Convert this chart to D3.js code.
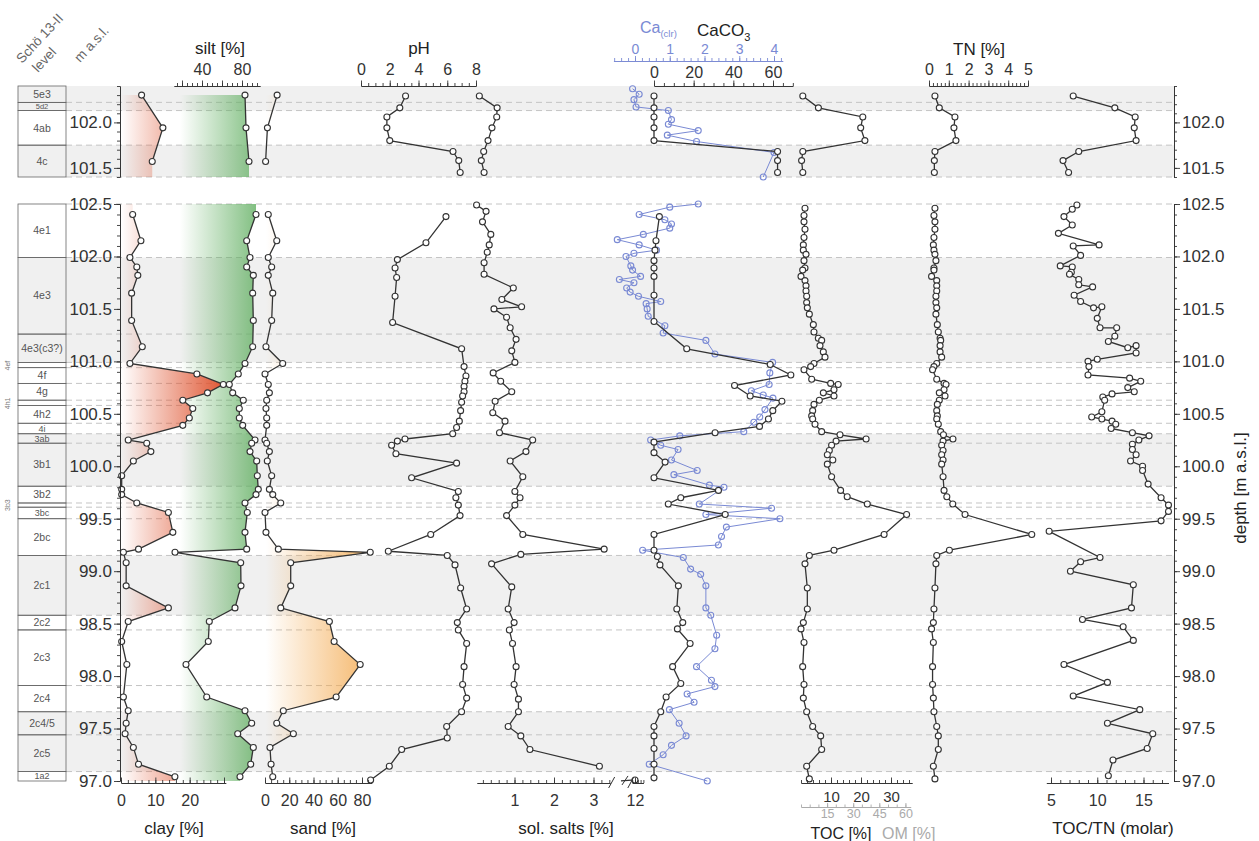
<!DOCTYPE html>
<html>
<head>
<meta charset="utf-8">
<script src="https://cdn.jsdelivr.net/npm/d3@7"></script>
<style>
  body { margin: 0; background: #fff; }
  svg text { font-family: "Liberation Sans", Arial, sans-serif; }
</style>
</head>
<body>
<svg id="chart" width="1259" height="841"></svg>
<script>
// ---------- stratigraphy ----------
const layersUp = ['5e3', '5d2', '4ab', '4c'];
const layerTopsUp = [102.4, 102.22, 102.13, 101.75];
const greyUp = [[102.4, 102.13], [101.75, 101.4]];

const layersLow = ['4e1', '4e3', '4e3(c3?)', '', '4f', '4g', '', '4h2', '4i', '3ab', '3b1',
  '3b2', '', '3bc', '2bc', '2c1', '2c2', '2c3', '2c4', '2c4/5', '2c5', '1a2'];
const layerTopsLow = [102.5, 101.99, 101.26, 100.99, 100.94, 100.79, 100.63, 100.58, 100.41,
  100.31, 100.22, 99.81, 99.65, 99.61, 99.50, 99.15, 98.58, 98.44, 97.91, 97.66, 97.44, 97.09];
const greyLow = [[101.99, 100.99], [100.31, 99.81], [99.15, 98.58], [97.66, 97.09]];

// ---------- upper section data ----------
const grainDepthUp = [102.30, 101.94, 101.57];
const clayUp = [6.0, 12.2, 9.1];
const siltUp = [83, 84, 87];
const sandUp = [10, 2, 0.5];

const chemDepthUp = [102.29, 102.16, 102.06, 101.94, 101.80, 101.68, 101.58, 101.45];
const phUp = [3.1, 2.7, 1.8, 1.8, 2.0, 6.4, 6.8, 6.9];
const saltUp = [0.11, 0.56, 0.55, 0.43, 0.33, 0.22, 0.16, 0.23];
const carbUp = [0, 0, 0, 0, 0, 62.3, 62.3, 62.3];
const tocUp = [0.6, 5.8, 20.6, 19.9, 21.3, 0.6, 0.2, 0.6];
const tnUp = [0.30, 0.52, 1.31, 1.26, 1.36, 0.30, 0.27, 0.27];
const ratioUp = [7.4, 11.9, 14.1, 14.0, 14.2, 8.0, 6.3, 6.9];

const caDepthUp = [102.37, 102.31, 102.25, 102.17, 102.13, 102.03, 101.98, 101.91, 101.86, 101.79, 101.67, 101.40];
const caUp = [-0.07, 0.12, -0.03, 0.03, 0.96, 1.05, 0.96, 1.82, 0.93, 1.77, 4.0, 3.69];

// ---------- lower section data ----------
const grainDepthLow = [102.40, 102.15, 101.99, 101.90, 101.82, 101.65, 101.39, 101.14, 100.98, 100.88,
  100.78, 100.70, 100.63, 100.55, 100.46, 100.39, 100.25, 100.22, 100.14, 100.05, 99.91, 99.78, 99.73,
  99.65, 99.56, 99.37, 99.21, 99.18, 99.08, 98.86, 98.65, 98.52, 98.33, 98.11, 97.80, 97.67, 97.55,
  97.45, 97.32, 97.16, 97.04];
const clayLow = [3.4, 5.8, 2.6, 4.6, 4.9, 3.1, 3.1, 6.2, 2.6, 22.1, 29.8, 25.2, 18.0, 20.9, 19.9, 18.0,
  2.1, 7.5, 8.7, 3.6, 0.2, 0.2, 0.2, 4.6, 13.8, 15.1, 5.1, 0.7, 1.5, 1.5, 13.8, 2.1, 0.2, 1.7, 0.7, 2.1,
  1.5, 1.2, 3.6, 5.1, 15.7];
const siltLow = [94, 84.7, 88, 84.7, 91.3, 90.7, 91.3, 90.7, 83, 76.3, 67.3, 70.7, 81.3, 77.3, 77.3, 80.7,
  93, 89.7, 88, 94.7, 95.3, 96.3, 94, 83, 85.3, 83, 84.7, 13, 78.7, 79, 73, 47.3, 46.3, 24, 44.7, 83,
  89.7, 75.7, 91.3, 88.7, 78];
const sandLow = [2.7, 9.7, 2.7, 5.5, 2.7, 6.4, 5.5, 0.8, 14.6, 0, 2.7, 3.6, 1.4, 0.8, 1.4, 1.4, 0, 1.4,
  3.6, 1.9, 5.5, 3.6, 6.4, 13, 0, 0.8, 11, 86.8, 21.2, 21.2, 13, 53.1, 57, 78.5, 58.7, 15.1, 9.7, 23.4,
  4.1, 5, 6.4];

const phDepthLow = [102.38, 102.13, 101.97, 101.89, 101.80, 101.62, 101.37, 101.12, 100.95, 100.86,
  100.81, 100.76, 100.71, 100.67, 100.61, 100.53, 100.43, 100.37, 100.31, 100.26, 100.24, 100.20, 100.12,
  100.03, 99.89, 99.76, 99.70, 99.63, 99.53, 99.35, 99.19, 99.15, 99.06, 98.84, 98.64, 98.51, 98.44,
  98.31, 98.09, 97.92, 97.79, 97.66, 97.52, 97.41, 97.30, 97.14, 97.01];
const phLow = [5.91, 4.52, 2.53, 2.37, 2.48, 2.37, 2.2, 7.0, 7.17, 7.3, 7.23, 7.17, 7.17, 7.07, 7.0, 6.93,
  6.84, 6.65, 6.38, 3.06, 2.53, 2.13, 2.43, 6.65, 3.52, 6.77, 6.6, 6.77, 6.89, 4.85, 1.9, 6.0, 6.54, 6.93,
  7.35, 6.7, 6.77, 7.35, 7.17, 7.07, 7.35, 7.0, 5.96, 6.0, 2.83, 1.97, 0.67];

const saltDepthLow = [102.49, 102.43, 102.33, 102.21, 102.11, 102.04, 101.94, 101.83, 101.70, 101.59,
  101.52, 101.50, 101.42, 101.32, 101.21, 101.10, 100.99, 100.89, 100.81, 100.71, 100.62, 100.51, 100.43,
  100.32, 100.25, 100.14, 100.05, 99.90, 99.76, 99.70, 99.63, 99.53, 99.35, 99.21, 99.16, 99.07, 98.85,
  98.64, 98.51, 98.44, 98.31, 98.09, 97.92, 97.78, 97.66, 97.52, 97.43, 97.30, 97.14];
const saltLow = [0.04, 0.28, 0.19, 0.40, 0.36, 0.31, 0.23, 0.23, 0.97, 0.68, 1.18, 0.48, 0.80, 0.89,
  1.04, 0.93, 1.01, 0.46, 0.65, 0.93, 0.51, 0.45, 0.76, 0.62, 1.46, 1.29, 0.89, 1.21, 1.01, 1.14, 1.01,
  0.80, 1.21, 3.27, 1.16, 0.42, 0.93, 0.84, 0.99, 0.87, 0.95, 1.04, 0.99, 1.10, 1.10, 0.84, 1.16, 1.39, 3.15];
// the lowest sample sits beyond the axis break
const saltOutlierDepth = 97.01;
const saltOutlier = 12;

const carbDepthLow = [102.38, 102.15, 102.06, 101.96, 101.89, 101.81, 101.63, 101.38, 101.12, 100.97,
  100.87, 100.77, 100.67, 100.62, 100.53, 100.45, 100.38, 100.32, 100.23, 100.13, 100.04, 99.89, 99.77,
  99.70, 99.64, 99.54, 99.35, 99.20, 99.14, 99.06, 98.86, 98.64, 98.51, 98.45, 98.31, 98.09, 97.93,
  97.80, 97.66, 97.52, 97.43, 97.31, 97.16, 97.03];
const carbLow = [2.7, 1.0, 0.5, 0, 0, 0, 0, 0, 16.5, 58.6, 69.0, 40.6, 48.5, 64.5, 59.9, 57.7, 53.2,
  30.8, 0, 0, 5.6, 0, 32.5, 13.5, 7.2, 35.9, 0, 0, 1.7, 3.0, 12.3, 11.5, 14.5, 11.8, 18.2, 9.4, 13.5,
  6.1, 3.4, 0, 0, 0, 0, 0];

const caDepthLow = [102.50, 102.47, 102.40, 102.35, 102.31, 102.27, 102.21, 102.16, 102.11, 102.06,
  102.03, 102.00, 101.91, 101.87, 101.81, 101.78, 101.75, 101.70, 101.66, 101.62, 101.57, 101.55, 101.50,
  101.43, 101.34, 101.27, 101.20, 101.07, 100.99, 100.89, 100.78, 100.72, 100.68, 100.65, 100.54, 100.47,
  100.42, 100.33, 100.29, 100.25, 100.20, 100.16, 100.06, 99.96, 99.92, 99.82, 99.80, 99.64, 99.60,
  99.54, 99.50, 99.42, 99.33, 99.25, 99.20, 99.13, 99.02, 98.97, 98.86, 98.65, 98.58, 98.39, 98.26,
  98.09, 97.96, 97.90, 97.83, 97.75, 97.68, 97.55, 97.43, 97.34, 97.25, 97.16, 97.0];
const caLow = [1.82, 1.0, 0.12, 0.86, 1.05, 1.0, 0.24, -0.51, 0.12, 0.62, -0.03, -0.26, -0.12, -0.07,
  0.16, -0.45, -0.03, -0.24, -0.14, 0.10, 0.74, 0.32, 0.35, 0.38, 0.86, 0.81, 2.04, 2.30, 3.96, 3.88,
  3.86, 3.35, 3.69, 3.97, 3.74, 3.59, 3.42, 3.13, 1.29, 0.45, 0.74, 1.24, 1.05, 1.79, 1.12, 2.14, 2.56,
  1.85, 3.93, 2.04, 4.17, 2.63, 2.49, 2.40, 0.22, 1.39, 1.60, 1.89, 2.04, 2.04, 2.18, 2.35, 2.30, 1.77,
  2.20, 2.30, 1.50, 1.70, 0.99, 1.27, 1.47, 1.05, 0.81, 0.41, 2.08];

const orgDepthLow = [102.46, 102.39, 102.33, 102.26, 102.18, 102.11, 102.06, 102.02, 101.96, 101.89,
  101.87, 101.81, 101.77, 101.72, 101.67, 101.62, 101.56, 101.51, 101.45, 101.35, 101.28, 101.22, 101.20,
  101.15, 101.09, 101.04, 100.98, 100.95, 100.92, 100.83, 100.79, 100.78, 100.73, 100.70, 100.67, 100.63,
  100.59, 100.53, 100.48, 100.45, 100.40, 100.33, 100.30, 100.26, 100.24, 100.20, 100.15, 100.11, 100.06,
  100.02, 99.90, 99.77, 99.71, 99.64, 99.54, 99.35, 99.20, 99.15, 99.07, 98.84, 98.64, 98.51, 98.45,
  98.32, 98.09, 97.92, 97.79, 97.66, 97.52, 97.43, 97.30, 97.14, 97.02];
const tocLow = [1.33, 1.0, 1.0, 1.33, 1.0, 0.78, 0.78, 1.67, 1.0, 1.33, 0.56, 0, 1.33, 1.67, 1.67, 1.89,
  1.89, 2.11, 2.78, 4.11, 4.33, 5.78, 6.89, 6.33, 7.44, 8.0, 4.33, 3.22, 1.0, 3.56, 9.89, 12.4, 11.0, 7.44,
  11.0, 6.11, 4.33, 3.89, 3.56, 3.89, 4.67, 6.89, 13.0, 21.7, 11.7, 10.2, 9.44, 8.78, 10.6, 8.78, 10.2,
  13.2, 15.4, 22.1, 35.2, 27.7, 11.0, 2.78, 1.33, 2.11, 2.11, 0.78, 0, 1.0, 0.56, 1.0, 0.78, 1.89, 3.89,
  6.56, 6.89, 1.89, 2.78];
const tnLow = [0.30, 0.25, 0.30, 0.30, 0.25, 0.22, 0.25, 0.30, 0.35, 0.25, 0.25, 0.13, 0.39, 0.39, 0.39,
  0.35, 0.35, 0.39, 0.35, 0.42, 0.47, 0.56, 0.59, 0.56, 0.56, 0.64, 0.39, 0.25, 0.18, 0.39, 0.76, 0.86,
  0.76, 0.52, 0.81, 0.52, 0.42, 0.39, 0.42, 0.39, 0.47, 0.59, 0.73, 1.21, 0.71, 0.64, 0.71, 0.64, 0.71,
  0.64, 0.71, 0.76, 0.9, 1.2, 1.82, 5.19, 1.03, 0.39, 0.35, 0.30, 0.25, 0.22, 0.13, 0.22, 0.18, 0.18,
  0.22, 0.25, 0.39, 0.47, 0.47, 0.22, 0.30];

const ratioDepthLow = [102.49, 102.45, 102.38, 102.30, 102.22, 102.11, 102.10, 102.01, 101.91, 101.90,
  101.85, 101.83, 101.78, 101.73, 101.71, 101.63, 101.57, 101.51, 101.52, 101.41, 101.32, 101.32, 101.24,
  101.19, 101.13, 101.15, 101.08, 101.02, 101.00, 100.95, 100.87, 100.84, 100.81, 100.75, 100.71, 100.69,
  100.66, 100.63, 100.52, 100.47, 100.45, 100.43, 100.40, 100.36, 100.32, 100.29, 100.25, 100.21, 100.16,
  100.11, 100.05, 100.00, 99.96, 99.83, 99.70, 99.63, 99.57, 99.48, 99.38, 99.13, 99.09, 99.00, 98.87,
  98.65, 98.54, 98.47, 98.34, 98.11, 97.94, 97.81, 97.68, 97.55, 97.45, 97.31, 97.20, 97.05];
const ratioLow = [7.8, 7.3, 6.4, 7.3, 5.8, 10.2, 7.4, 8.2, 6.0, 7.3, 7.2, 7.0, 8.0, 8.0, 9.5, 7.5, 8.2,
  9.6, 10.5, 10.0, 10.3, 12.1, 11.9, 11.2, 13.3, 14.2, 14.2, 10.0, 9.0, 9.1, 9.0, 13.5, 14.7, 13.3, 14.0,
  11.6, 10.6, 10.8, 10.5, 9.4, 10.5, 11.6, 12.0, 11.5, 13.8, 15.6, 14.5, 13.8, 13.8, 14.2, 13.6, 14.9,
  14.9, 15.5, 16.9, 17.7, 17.7, 16.9, 4.8, 10.3, 8.2, 7.1, 13.9, 13.7, 8.4, 12.8, 13.9, 6.4, 11.1, 7.4,
  14.6, 11.1, 16.0, 15.4, 11.7, 11.2];

// ---------- tick labels ----------
const depthTicksLow = [97.0, 97.5, 98.0, 98.5, 99.0, 99.5, 100.0, 100.5, 101.0, 101.5, 102.0, 102.5];
const depthTicksUp = [101.5, 102.0];
const clayLabels = [0, 10, 20];
const siltLabels = [40, 80];
const sandLabels = [0, 20, 40, 60, 80];
const phLabels = [0, 2, 4, 6, 8];
const saltLabels = [1, 2, 3];
const caLabels = [0, 1, 2, 3, 4];
const carbLabels = [0, 20, 40, 60];
const tocLabels = [10, 20, 30];
const omLabels = [15, 30, 45, 60];
const tnLabels = [0, 1, 2, 3, 4, 5];
const ratioLabels = [5, 10, 15];

// ---------- layout ----------
const font = '"Liberation Sans", Arial, sans-serif';
const ink = '#333';
const blue = '#7a8ad4';
const colLeft = 18, colRight = 66, axisL = 120, axisR = 1174;
const topAxisY = 86, bottomAxisY = 783;

const yUp = d3.scaleLinear().domain([101.4, 102.4]).range([177, 86]);
const yLow = d3.scaleLinear().domain([97.0, 102.5]).range([781, 204]);

const xClay = d3.scaleLinear().domain([0, 30]).range([121, 224]);
const xSilt = d3.scaleLinear().domain([0, 100]).range([162, 262]);
const xSand = d3.scaleLinear().domain([0, 80]).range([265, 362]);
const xPH = d3.scaleLinear().domain([0, 8]).range([361, 476]);
const xSalt = d3.scaleLinear().domain([0, 3]).range([475, 593.5]);
const xSaltBreak = d3.scaleLinear().domain([11.5, 12.5]).range([621, 649]);
const xCa = d3.scaleLinear().domain([0, 4]).range([635, 774]);
const xCarb = d3.scaleLinear().domain([0, 60]).range([654, 773]);
const xTOC = d3.scaleLinear().domain([0, 30]).range([801, 891]);
const xTN = d3.scaleLinear().domain([0, 5]).range([929, 1028]);
const xRatio = d3.scaleLinear().domain([5, 15]).range([1051, 1143.5]);

const svg = d3.select('#chart');
const defs = svg.append('defs');

const addGradient = (id, x1, x2, color, maxOpacity) => {
  const gr = defs.append('linearGradient').attr('id', id)
    .attr('gradientUnits', 'userSpaceOnUse')
    .attr('x1', x1).attr('x2', x2).attr('y1', 0).attr('y2', 0);
  gr.append('stop').attr('offset', 0).attr('stop-color', color).attr('stop-opacity', 0);
  gr.append('stop').attr('offset', 1).attr('stop-color', color).attr('stop-opacity', maxOpacity);
};
addGradient('gClay', 121, 226, '#df5430', 1);
addGradient('gSilt', 180, 258, '#5fae5f', 0.8);
addGradient('gSand', 266, 372, '#f3a94e', 0.85);

// ---------- background bands, dashed boundaries, column ----------
const drawSection = (y, layers, tops, bottom, greys, dashes) => {
  greys.forEach(([a, b]) => {
    svg.append('rect')
      .attr('x', colLeft).attr('width', axisR - colLeft)
      .attr('y', y(a)).attr('height', y(b) - y(a))
      .attr('fill', '#f0f0f0');
  });
  dashes.forEach((d) => {
    svg.append('line')
      .attr('x1', colRight).attr('x2', axisR)
      .attr('y1', y(d)).attr('y2', y(d))
      .attr('stroke', '#c4c4c4').attr('stroke-width', 1)
      .attr('stroke-dasharray', '6,4');
  });
  layers.forEach((name, i) => {
    const t = tops[i];
    const b = i < tops.length - 1 ? tops[i + 1] : bottom;
    svg.append('rect')
      .attr('x', colLeft).attr('width', colRight - colLeft)
      .attr('y', y(t)).attr('height', y(b) - y(t))
      .attr('fill', 'none').attr('stroke', '#666').attr('stroke-width', 0.8);
    if (name) {
      const h = y(b) - y(t);
      const fs = name === '5d2' ? 7.5 : h < 12 ? 9 : 10.5;
      svg.append('text')
        .attr('x', (colLeft + colRight) / 2).attr('y', (y(t) + y(b)) / 2 + fs * 0.35)
        .attr('text-anchor', 'middle').attr('font-size', fs).attr('fill', '#555')
        .text(name);
    }
  });
};

drawSection(yUp, layersUp, layerTopsUp, 101.4, greyUp, [102.22, 102.13, 101.75, 101.4]);
drawSection(yLow, layersLow, layerTopsLow, 97.0, greyLow, layerTopsLow);

// small sub-unit labels beside the column
[['4ef', 100.96], ['4h1', 100.6], ['3b3', 99.63]].forEach(([t, d]) => {
  svg.append('text')
    .attr('transform', `translate(10,${yLow(d)}) rotate(-90)`)
    .attr('text-anchor', 'middle').attr('font-size', 7).attr('fill', '#777')
    .text(t);
});

// ---------- filled grain-size profiles ----------
const fillProfile = (depths, vals, x, y, x0, top, bottom, grad) => {
  const rows = depths.map((d, i) => ({ d, v: vals[i], b: x0(i) }));
  if (top !== null) rows.unshift({ d: top, v: vals[0], b: x0(0) });
  rows.push({ d: bottom, v: vals[vals.length - 1], b: x0(vals.length - 1) });
  svg.append('path')
    .attr('d', d3.area().y((r) => y(r.d)).x0((r) => r.b).x1((r) => x(r.v))(rows))
    .attr('fill', `url(#${grad})`);
};

const drawFills = (depths, clay, silt, sand, y, top, bottom) => {
  fillProfile(depths, silt, xSilt, y, (i) => Math.max(xSilt(0), xClay(clay[i])), top, bottom, 'gSilt');
  fillProfile(depths, clay, xClay, y, () => xClay(0), top, bottom, 'gClay');
  fillProfile(depths, sand, xSand, y, () => xSand(0), top, bottom, 'gSand');
};
drawFills(grainDepthUp, clayUp, siltUp, sandUp, yUp, null, 101.4);
drawFills(grainDepthLow, clayLow, siltLow, sandLow, yLow, 102.5, 97.0);

// ---------- line + open circle profiles ----------
const profile = (depths, vals, x, y, color = ink, lw = 1.3) => {
  const pts = depths.map((d, i) => [x(vals[i]), y(d)]);
  const g = svg.append('g');
  g.append('path').attr('d', d3.line()(pts))
    .attr('fill', 'none').attr('stroke', color).attr('stroke-width', lw);
  g.selectAll('circle').data(pts).join('circle')
    .attr('cx', (p) => p[0]).attr('cy', (p) => p[1]).attr('r', 3)
    .attr('fill', color === ink ? '#fff' : 'none')
    .attr('stroke', color).attr('stroke-width', 1.1);
};

profile(caDepthUp, caUp, xCa, yUp, blue, 1);
profile(caDepthLow, caLow, xCa, yLow, blue, 1);

[[yUp, grainDepthUp, clayUp, siltUp, sandUp], [yLow, grainDepthLow, clayLow, siltLow, sandLow]]
  .forEach(([y, dep, c, s, sa]) => {
    profile(dep, c, xClay, y);
    profile(dep, s, xSilt, y);
    profile(dep, sa, xSand, y);
  });

profile(chemDepthUp, phUp, xPH, yUp);
profile(chemDepthUp, saltUp, xSalt, yUp);
profile(chemDepthUp, carbUp, xCarb, yUp);
profile(chemDepthUp, tocUp, xTOC, yUp);
profile(chemDepthUp, tnUp, xTN, yUp);
profile(chemDepthUp, ratioUp, xRatio, yUp);

profile(phDepthLow, phLow, xPH, yLow);
profile(saltDepthLow, saltLow, xSalt, yLow);
profile(carbDepthLow, carbLow, xCarb, yLow);
profile(orgDepthLow, tocLow, xTOC, yLow);
profile(orgDepthLow, tnLow, xTN, yLow);
profile(ratioDepthLow, ratioLow, xRatio, yLow);

// salt outlier beyond the axis break
const oy = yLow(saltOutlierDepth), ox = xSaltBreak(saltOutlier);
svg.append('line').attr('x1', ox - 14).attr('x2', ox).attr('y1', oy + 1).attr('y2', oy)
  .attr('stroke', ink).attr('stroke-width', 1.3);
svg.append('line').attr('x1', ox - 13).attr('x2', ox - 7).attr('y1', oy + 5).attr('y2', oy - 4)
  .attr('stroke', ink).attr('stroke-width', 1);
svg.append('circle').attr('cx', ox).attr('cy', oy).attr('r', 3)
  .attr('fill', '#fff').attr('stroke', ink).attr('stroke-width', 1.1);

// ---------- axes ----------
const fmtNum = (d) => `${d}`;
const range = (a, b, s) => d3.range(Math.round(a / s), Math.round(b / s) + 1).map((k) => +(k * s).toFixed(4));

const axis = (gen, scale, pos, lo, hi, majors, minorStep, labels, o = {}) => {
  const s = d3.scaleLinear().domain([lo, hi]).range([scale(lo), scale(hi)]);
  const g = svg.append('g').attr('transform', pos);
  const sign = o.inward ? -1 : 1;
  g.append('g').call(gen(s).tickValues(range(lo, hi, minorStep).filter((v) => v >= lo && v <= hi))
    .tickSize(sign * (o.minor || 3)).tickSizeOuter(0).tickFormat(''));
  g.append('g').call(gen(s).tickValues(majors.filter((v) => v >= lo - 1e-9 && v <= hi + 1e-9))
    .tickSize(sign * (o.major || 5.5)).tickSizeOuter(0).tickPadding(o.pad || 3)
    .tickFormat((d) => (labels.includes(d) ? (o.fmt || fmtNum)(d) : '')));
  g.selectAll('path, line').attr('stroke', o.color || ink).attr('stroke-width', 0.9);
  g.selectAll('text').attr('font-family', font).attr('font-size', o.size || 16)
    .attr('fill', o.textColor || o.color || ink);
  return g;
};

const fmtDepth = (d) => d.toFixed(1);
// depth axes
axis(d3.axisLeft, yLow, `translate(${axisL},0)`, 97.0, 102.5, depthTicksLow, 0.1, depthTicksLow,
  { fmt: fmtDepth, size: 17, major: 6, pad: 2 });
axis(d3.axisLeft, yUp, `translate(${axisL},0)`, 101.4, 102.4, depthTicksUp, 0.1, depthTicksUp,
  { fmt: fmtDepth, size: 17, major: 6, pad: 2 });
axis(d3.axisRight, yLow, `translate(${axisR},0)`, 97.0, 102.5, depthTicksLow, 0.1, depthTicksLow,
  { fmt: fmtDepth, size: 17, major: 6, pad: 2 });
axis(d3.axisRight, yUp, `translate(${axisR},0)`, 101.4, 102.4, depthTicksUp, 0.1, depthTicksUp,
  { fmt: fmtDepth, size: 17, major: 6, pad: 2 });

// top axes
axis(d3.axisTop, xSilt, `translate(0,${topAxisY})`, 12, 98, [20, 40, 60, 80], 5, siltLabels, { pad: 6 });
axis(d3.axisTop, xPH, `translate(0,${topAxisY})`, 0, 8, phLabels, 0.5, phLabels, { pad: 6 });
axis(d3.axisTop, xCa, 'translate(0,61)', -0.62, 4.25, caLabels, 0.2, caLabels,
  { color: blue, pad: 2, size: 14, major: 5 });
axis(d3.axisTop, xCarb, `translate(0,${topAxisY})`, 0, 70, carbLabels, 5, carbLabels, { pad: 3 });
axis(d3.axisTop, xTN, `translate(0,${topAxisY})`, 0, 5, tnLabels, 0.2, tnLabels, { pad: 6 });

// bottom axes (ticks point up into the plot)
const bottomOpts = { inward: true, pad: 12 };
axis(d3.axisBottom, xClay, `translate(0,${bottomAxisY})`, 0, 30.5, [0, 10, 20, 30], 2, clayLabels, bottomOpts);
axis(d3.axisBottom, xSand, `translate(0,${bottomAxisY})`, 0, 88, sandLabels, 5, sandLabels, bottomOpts);
axis(d3.axisBottom, xSalt, `translate(0,${bottomAxisY})`, 0.05, 3.42, [1, 2, 3], 0.2, saltLabels, bottomOpts);
axis(d3.axisBottom, xSaltBreak, `translate(0,${bottomAxisY})`, 11.9, 12.3, [12], 0.1, [12], bottomOpts);
axis(d3.axisBottom, xTOC, `translate(0,${bottomAxisY})`, 0, 37, tocLabels, 2, tocLabels,
  { inward: true, pad: 8, size: 15 });
const xOM = d3.scaleLinear().domain([0, 60]).range([xTOC(0), xTOC(60 / 1.724)]);
axis(d3.axisBottom, xOM, `translate(0,${bottomAxisY + 24})`, 0, 63, omLabels, 5, omLabels,
  { inward: true, pad: 2, size: 12.5, color: '#aaa', major: 4, minor: 2.5 });
axis(d3.axisBottom, xRatio, `translate(0,${bottomAxisY})`, 4.5, 17.7, ratioLabels, 1, ratioLabels, bottomOpts);

// axis break slashes for sol. salts
[xSalt(3.46), xSaltBreak(11.85)].forEach((bx) => {
  svg.append('line').attr('x1', bx - 3).attr('x2', bx + 3)
    .attr('y1', bottomAxisY + 5).attr('y2', bottomAxisY - 6)
    .attr('stroke', ink).attr('stroke-width', 1);
});

// ---------- titles ----------
const label = (x, y, txt, o = {}) => svg.append('text')
  .attr('x', x).attr('y', y).attr('text-anchor', o.anchor || 'middle')
  .attr('font-size', o.size || 17).attr('fill', o.color || '#222').text(txt);

label(220, 54, 'silt [%]');
label(419, 54, 'pH');
label(979, 55, 'TN [%]');

const caTitle = svg.append('text').attr('x', 640).attr('y', 33).attr('font-size', 16).attr('fill', blue);
caTitle.append('tspan').text('Ca');
caTitle.append('tspan').attr('font-size', 9.5).attr('dy', 4).text('(clr)');
const carbTitle = svg.append('text').attr('x', 697).attr('y', 36).attr('font-size', 17).attr('fill', '#222');
carbTitle.append('tspan').text('CaCO');
carbTitle.append('tspan').attr('font-size', 11).attr('dy', 5).text('3');

label(174, 834, 'clay [%]');
label(323, 834, 'sand [%]');
label(566, 834, 'sol. salts [%]');
label(841, 839, 'TOC [%]', { size: 16 });
label(882, 839, 'OM [%]', { size: 16, color: '#aaa', anchor: 'start' });
label(1113, 834, 'TOC/TN (molar)');

svg.append('text')
  .attr('transform', 'translate(1246,488) rotate(-90)')
  .attr('text-anchor', 'middle').attr('font-size', 17).attr('fill', '#222')
  .text('depth [m a.s.l.]');

// rotated column headers
[['Schö 13-II', 22, 64], ['level', 38, 73], ['m a.s.l.', 80, 63]].forEach(([t, x, y]) => {
  svg.append('text')
    .attr('transform', `translate(${x},${y}) rotate(-47)`)
    .attr('font-size', 13.5).attr('fill', '#666').text(t);
});
</script>
</body>
</html>
